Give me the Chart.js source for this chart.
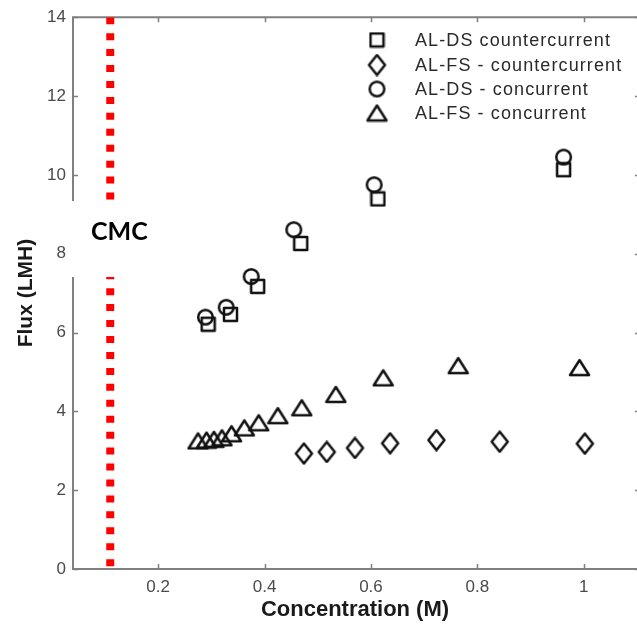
<!DOCTYPE html>
<html><head><meta charset="utf-8">
<script src="https://cdn.jsdelivr.net/npm/chart.js@4.4.0/dist/chart.umd.min.js"></script>
<style>html,body{margin:0;padding:0;background:#fff}#wrap{width:637px;height:627px}</style>
</head><body><div id="wrap"><canvas id="c" width="637" height="627"></canvas></div>
<script>
// ---- data ----
const xTicks = [0.2, 0.4, 0.6, 0.8, 1];
const yTicks = [0, 2, 4, 6, 8, 10, 12, 14];
const seriesLabels = ['AL-DS countercurrent', 'AL-FS - countercurrent', 'AL-DS - concurrent', 'AL-FS - concurrent'];

const concDSCounter = [0.294, 0.336, 0.387, 0.468, 0.613, 0.962];
const fluxDSCounter = [6.21, 6.46, 7.17, 8.26, 9.39, 10.13];

const concFSCounter = [0.474, 0.517, 0.570, 0.636, 0.723, 0.842, 1.002];
const fluxFSCounter = [2.93, 2.97, 3.07, 3.19, 3.27, 3.23, 3.18];

const concDSCon = [0.289, 0.328, 0.375, 0.455, 0.606, 0.962];
const fluxDSCon = [6.39, 6.64, 7.42, 8.61, 9.75, 10.45];

const concFSCon = [0.275, 0.291, 0.305, 0.320, 0.338, 0.362, 0.389, 0.425, 0.470, 0.534, 0.623, 0.764, 0.992];
const fluxFSCon = [3.25, 3.27, 3.29, 3.33, 3.43, 3.58, 3.71, 3.89, 4.09, 4.43, 4.85, 5.16, 5.11];

const cmcConc = 0.11;
const cmcLabel = 'CMC';
const xTitle = 'Concentration (M)';
const yTitle = 'Flux (LMH)';

// ---- marker images ----
function mk(w, h, draw) {
  const c = document.createElement('canvas');
  c.width = w; c.height = h;
  const g = c.getContext('2d');
  g.strokeStyle = '#111';
  g.lineWidth = 2.5;
  g.lineJoin = 'round';
  draw(g);
  return c;
}
const mSquare = mk(17, 17, g => g.strokeRect(2, 2, 13, 13));
const mCircle = mk(19, 19, g => { g.beginPath(); g.arc(9.5, 9.5, 7.3, 0, Math.PI * 2); g.stroke(); });
const mDiamond = mk(21, 23, g => { g.beginPath(); g.moveTo(10.5, 1.5); g.lineTo(18.5, 11.5); g.lineTo(10.5, 21.5); g.lineTo(2.5, 11.5); g.closePath(); g.stroke(); });
const mTriangle = mk(23, 19, g => { g.beginPath(); g.moveTo(11.5, 2); g.lineTo(21, 17); g.lineTo(2, 17); g.closePath(); g.stroke(); });
const markers = [mSquare, mDiamond, mCircle, mTriangle];

const pts = (xs, ys) => xs.map((x, i) => ({ x: x, y: ys[i] }));
const seriesData = [
  pts(concDSCounter, fluxDSCounter),
  pts(concFSCounter, fluxFSCounter),
  pts(concDSCon, fluxDSCon),
  pts(concFSCon, fluxFSCon)
];

const datasets = seriesData.map((d, i) => ({
  label: seriesLabels[i],
  data: d,
  pointStyle: markers[i],
  pointRadius: 8,
  pointHoverRadius: 8,
  showLine: false
}));
datasets.push({
  label: cmcLabel,
  data: [{ x: cmcConc, y: 14 }, { x: cmcConc, y: 0 }],
  showLine: true,
  borderColor: '#ff0000',
  borderWidth: 8,
  borderDash: [7, 8.94],
  borderCapStyle: 'butt',
  pointRadius: 0,
  isCMC: true
});

const GRAY = '#808080';
const framePlugin = {
  id: 'frame',
  beforeDatasetsDraw(chart) {
    const { ctx, chartArea: a, scales } = chart;
    ctx.save();
    ctx.strokeStyle = GRAY;
    ctx.lineWidth = 2;
    ctx.beginPath();
    ctx.moveTo(a.right + 4, a.top); ctx.lineTo(a.left, a.top); ctx.lineTo(a.left, a.bottom); ctx.lineTo(a.right + 4, a.bottom);
    ctx.stroke();
    ctx.lineWidth = 1.5;
    ctx.beginPath();
    xTicks.forEach(v => {
      const px = Math.round(scales.x.getPixelForValue(v)) + 0.5;
      ctx.moveTo(px, a.bottom); ctx.lineTo(px, a.bottom - 5);
      ctx.moveTo(px, a.top); ctx.lineTo(px, a.top + 5);
    });
    yTicks.forEach(v => {
      const py = Math.round(scales.y.getPixelForValue(v)) + 0.5;
      ctx.moveTo(a.left, py); ctx.lineTo(a.left + 5, py);
      ctx.moveTo(a.right + 3, py); ctx.lineTo(a.right - 2, py);
    });
    ctx.stroke();
    ctx.restore();
  }
};

const overlayPlugin = {
  id: 'overlay',
  afterDraw(chart) {
    const { ctx } = chart;
    ctx.save();
    // legend
    const rows = [40, 65, 89, 113];
    ctx.font = '18px "Liberation Sans", Arial, sans-serif';
    ctx.fillStyle = '#2a2a2a';
    ctx.textBaseline = 'middle';
    ctx.textAlign = 'left';
    try { ctx.letterSpacing = '1.1px'; } catch (e) {}
    chart.data.datasets.forEach((ds, i) => {
      if (ds.isCMC) return;
      const img = markers[i];
      ctx.drawImage(img, 377 - img.width / 2, rows[i] - img.height / 2);
      ctx.fillText(ds.label, 415, rows[i] + 1);
    });
    try { ctx.letterSpacing = '0px'; } catch (e) {}
    // CMC label box
    ctx.fillStyle = '#ffffff';
    ctx.fillRect(71, 201, 95, 76);
    ctx.fillStyle = '#000000';
    ctx.font = 'bold 25px Lato, "Open Sans", sans-serif';
    ctx.textBaseline = 'alphabetic';
    ctx.fillText(cmcLabel, 91, 240);
    ctx.restore();
  }
};

new Chart(document.getElementById('c'), {
  type: 'scatter',
  data: { datasets: datasets },
  plugins: [framePlugin, overlayPlugin],
  options: {
    responsive: false,
    animation: false,
    devicePixelRatio: 1,
    layout: { autoPadding: false, padding: { top: 15, right: 0, left: 0, bottom: 0 } },
    plugins: { legend: { display: false }, tooltip: { enabled: false } },
    scales: {
      x: {
        type: 'linear', min: 0.04, max: 1.1,
        grid: { display: false, drawTicks: false }, border: { display: false },
        afterBuildTicks: s => { s.ticks = xTicks.map(v => ({ value: v })); },
        afterFit: s => { s.height = 58; },
        ticks: { padding: 8, color: '#4a4a4a', font: { family: '"Liberation Sans", Arial, sans-serif', size: 17 }, maxRotation: 0, autoSkip: false, callback: v => String(v) },
        title: { display: true, text: xTitle, color: '#1a1a1a', font: { family: '"Liberation Sans", Arial, sans-serif', size: 22, weight: 'bold' }, padding: { top: 0, bottom: 4 } }
      },
      y: {
        type: 'linear', min: 0, max: 14,
        grid: { display: false, drawTicks: false }, border: { display: false },
        afterBuildTicks: s => { s.ticks = yTicks.map(v => ({ value: v })); },
        afterFit: s => { s.width = 73; },
        ticks: { padding: 7, color: '#4a4a4a', font: { family: '"Liberation Sans", Arial, sans-serif', size: 17 }, autoSkip: false, callback: v => String(v) },
        title: { display: true, text: yTitle, color: '#1a1a1a', font: { family: '"Liberation Sans", Arial, sans-serif', size: 21, weight: 'bold' }, padding: { top: 14, bottom: 0 } }
      }
    }
  }
});
</script>
</body></html>
